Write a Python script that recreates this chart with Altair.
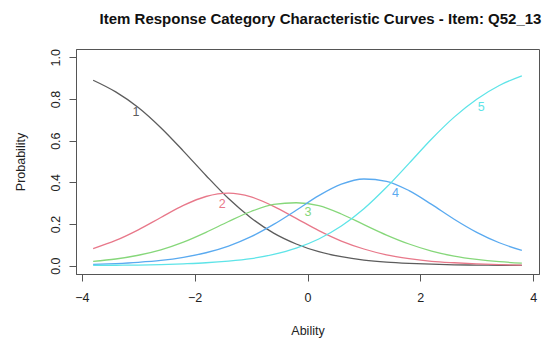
import altair as alt
import pandas as pd

# ---- data ----
theta = [-3.8, -3.4, -3.0, -2.6, -2.2, -1.8, -1.4, -1.0, -0.6, -0.2,
         0.2, 0.6, 1.0, 1.4, 1.8, 2.2, 2.6, 3.0, 3.4, 3.8]
cats = ["1", "2", "3", "4", "5"]
p1 = [0.890, 0.834, 0.759, 0.662, 0.550, 0.433, 0.322, 0.229, 0.156, 0.104,
      0.067, 0.043, 0.027, 0.017, 0.011, 0.007, 0.004, 0.003, 0.002, 0.001]
p2 = [0.082, 0.121, 0.172, 0.231, 0.289, 0.332, 0.348, 0.330, 0.285, 0.227,
      0.168, 0.118, 0.080, 0.052, 0.034, 0.021, 0.014, 0.009, 0.005, 0.003]
p3 = [0.021, 0.032, 0.050, 0.076, 0.113, 0.160, 0.212, 0.260, 0.294, 0.302,
      0.288, 0.248, 0.197, 0.147, 0.104, 0.070, 0.046, 0.030, 0.019, 0.012]
p4 = [0.006, 0.010, 0.016, 0.025, 0.040, 0.062, 0.094, 0.139, 0.198, 0.266,
      0.336, 0.391, 0.416, 0.405, 0.360, 0.294, 0.223, 0.160, 0.110, 0.073]
p5 = [0.001, 0.002, 0.003, 0.005, 0.009, 0.014, 0.022, 0.034, 0.054, 0.084,
      0.128, 0.190, 0.273, 0.376, 0.491, 0.608, 0.713, 0.799, 0.865, 0.911]

label_x = [-3.04, -1.51, 0.01, 1.56, 3.08]
label_y = [0.74, 0.298, 0.257, 0.35, 0.764]

colors = ["#5c5c5c", "#e8788a", "#86d77a", "#5aaaf0", "#5ee4e8"]
x_ticks = [-4, -2, 0, 2, 4]
y_ticks = [0.0, 0.2, 0.4, 0.6, 0.8, 1.0]

rows = []
for c, vals in zip(cats, [p1, p2, p3, p4, p5]):
    for t, v in zip(theta, vals):
        rows.append({"Ability": t, "Probability": v, "cat": c})
df = pd.DataFrame(rows)
lab = pd.DataFrame({"Ability": label_x, "Probability": label_y, "cat": cats})

FONT = "Liberation Sans"
color_scale = alt.Scale(domain=cats, range=colors)

x_enc = alt.X("Ability:Q",
              scale=alt.Scale(domain=[-4.104, 4.104], nice=False, zero=False),
              axis=alt.Axis(values=x_ticks, format="d", title="Ability",
                            titleX=231.5, titleY=56, titleAlign="center",
                            titleBaseline="middle", labelPadding=10))
y_enc = alt.Y("Probability:Q",
              scale=alt.Scale(domain=[-0.04, 1.04], nice=False, zero=False),
              axis=alt.Axis(values=y_ticks, format=".1f", title="Probability",
                            labelAngle=270, labelAlign="center",
                            labelBaseline="bottom", labelPadding=7,
                            titleX=-56, titleY=112.5, titleAlign="center",
                            titleBaseline="middle", titleAngle=270))

lines = alt.Chart(df).mark_line(strokeWidth=1.3, interpolate="monotone").encode(
    x=x_enc, y=y_enc,
    color=alt.Color("cat:N", scale=color_scale, legend=None),
    detail="cat:N",
)
texts = alt.Chart(lab).mark_text(font=FONT, fontSize=12.5, align="center",
                                 baseline="middle").encode(
    x="Ability:Q", y="Probability:Q",
    text="cat:N",
    color=alt.Color("cat:N", scale=color_scale, legend=None),
)

chart = alt.layer(lines, texts).properties(
    width=463, height=225,
    title=alt.TitleParams("Item Response Category Characteristic Curves - Item: Q52_13",
                          font=FONT, fontSize=15, fontWeight="bold",
                          color="#111", anchor="middle", dx=13, offset=22),
    autosize=alt.AutoSizeParams(type="none"),
    padding={"left": 68, "top": 41, "right": 10, "bottom": 67},
    background="white",
).configure_view(
    stroke="#555", strokeWidth=1
).configure_axis(
    grid=False, domainColor="#555", tickColor="#555", tickSize=7,
    labelFont=FONT, labelFontSize=12.5, labelColor="#222",
    titleFont=FONT, titleFontSize=12.5, titleFontWeight="normal", titleColor="#222",
)

chart.save("out.html", embed_options={"renderer": "svg", "actions": False})
